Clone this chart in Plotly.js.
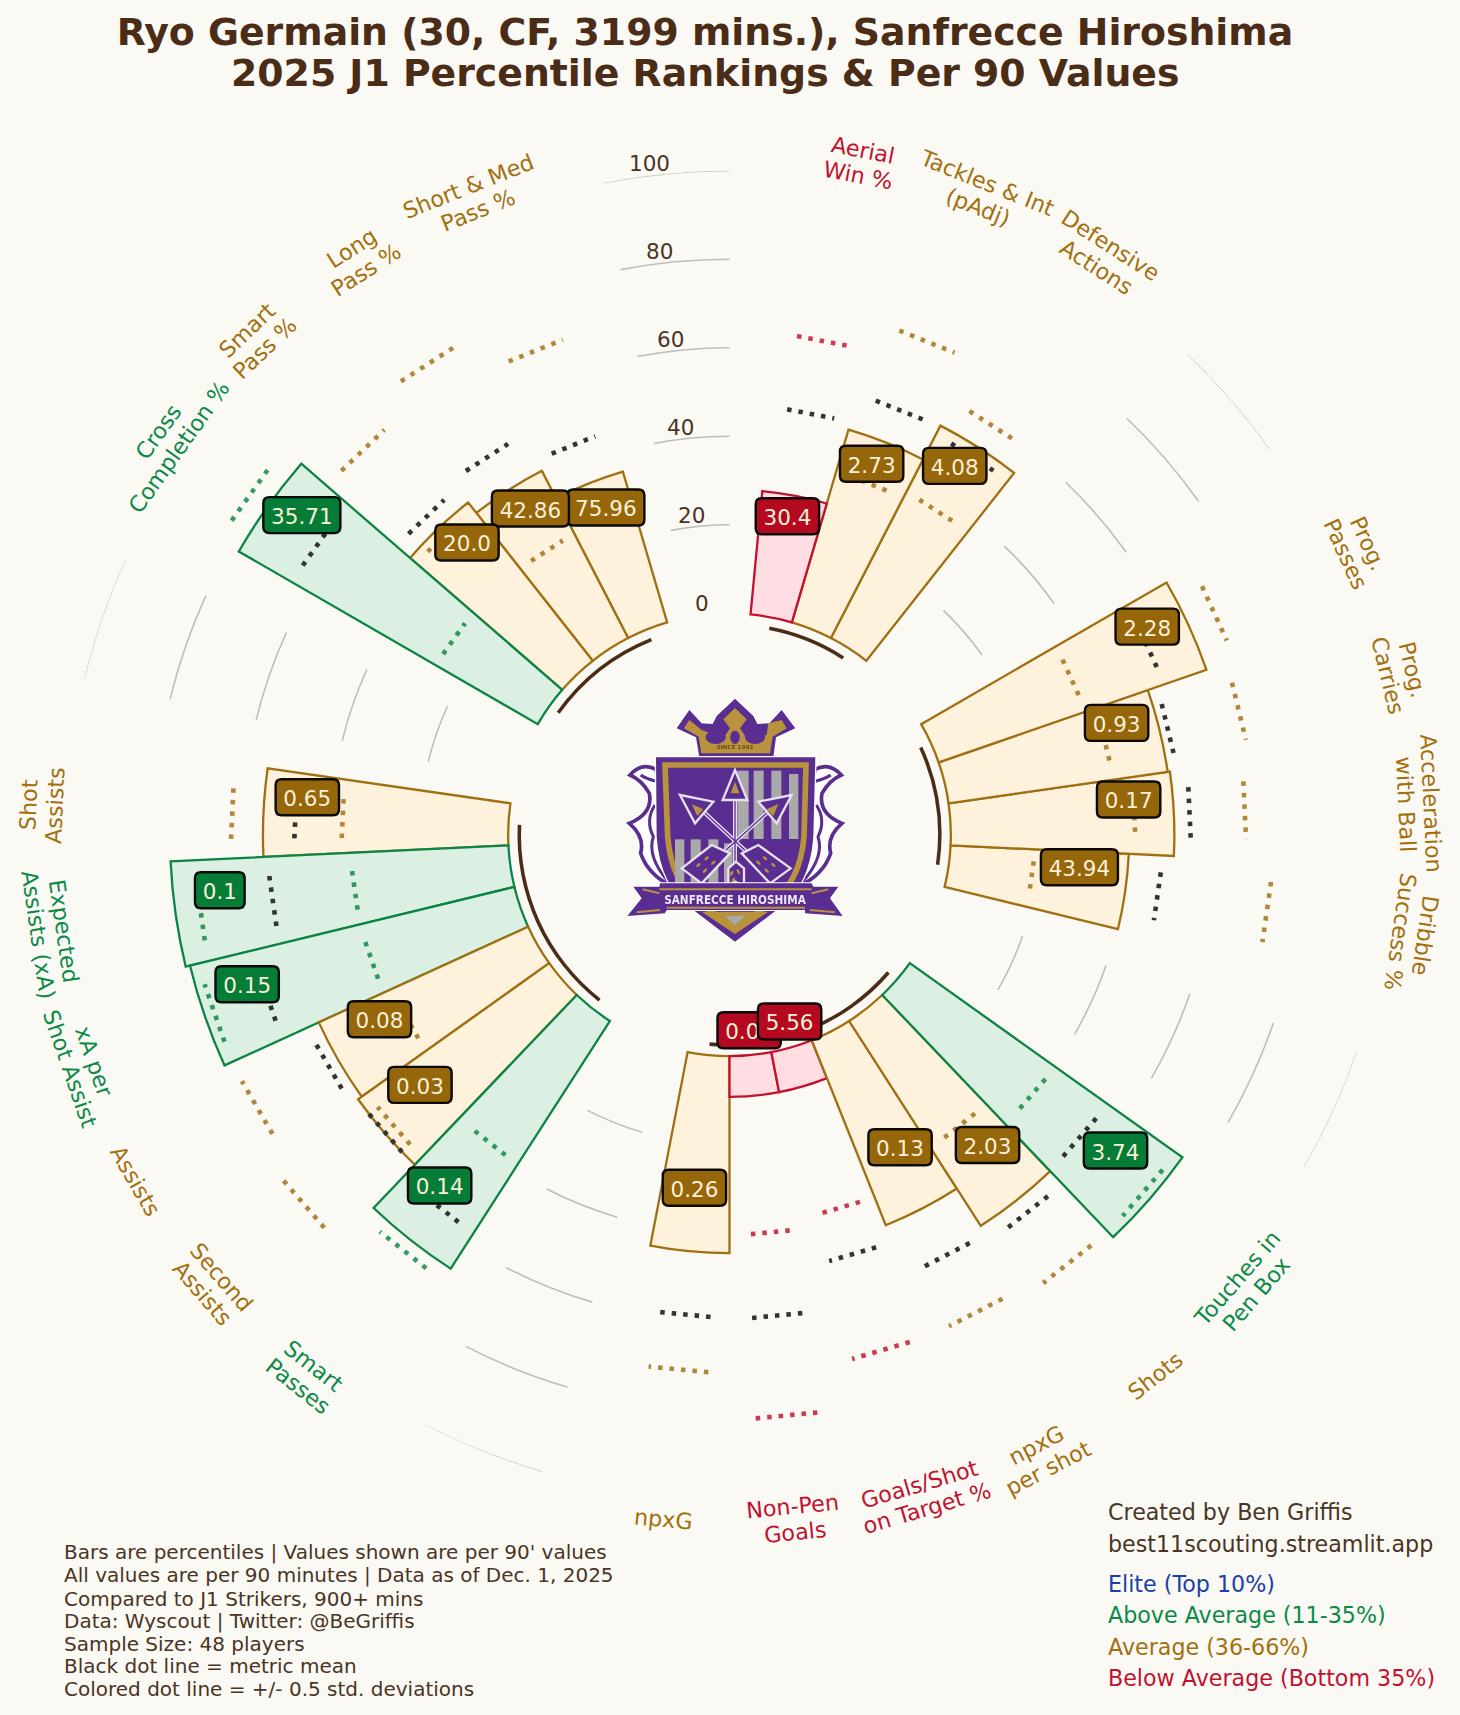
<!DOCTYPE html>
<html><head><meta charset="utf-8">
<script src="https://cdn.plot.ly/plotly-3.0.1.min.js"></script>
<style>html,body{margin:0;padding:0;background:#fbf9f4}</style></head>
<body><div id="chart" style="width:1460px;height:1715px"></div>
<script>
// ---------- chart data ----------
const metricNames = ['Aerial<br>Win %','Tackles & Int<br>(pAdj)','Defensive<br>Actions','Prog.<br>Passes','Prog.<br>Carries','Acceleration<br>with Ball','Dribble<br>Success %','Touches in<br>Pen Box','Shots','npxG<br>per shot','Goals/Shot<br>on Target %','Non-Pen<br>Goals','npxG','Smart<br>Passes','Second<br>Assists','Assists','xA per<br>Shot Assist','Expected<br>Assists (xA)','Shot<br>Assists','Cross<br>Completion %','Smart<br>Pass %','Long<br>Pass %','Short & Med<br>Pass %'];
const slots      = [1,2,3,6,7,8,9,12,13,14,15,16,17,20,21,22,23,24,25,28,29,30,31];
const percentiles= [28,45.4,54,64,50,50.5,40.3,75.6,55,45,9.2,9.2,44.5,66.5,53,52,75.4,76.4,55.4,78,45.5,42.5,35.5];
const perVals    = ['30.4','2.73','4.08','2.28','0.93','0.17','43.94','3.74','2.03','0.13','5.56','0.09','0.26','0.14','0.03','0.08','0.15','0.1','0.65','35.71','20.0','42.86','75.96'];
const tiers      = ['bad','avg','avg','avg','avg','avg','avg','good','avg','avg','bad','bad','avg','good','avg','avg','good','good','avg','good','avg','avg','avg'];
const meanPct    = [47,53.5,51.6,53.7,52,54.2,47.8,54.7,58.8,57,48.9,59.3,59,56.8,53,54.7,60.8,54.4,48.3,64,49.4,51.5,45];
const highPct    = [63.7,70.2,60,70.6,68.6,66.7,72.8,73.7,73.6,71.6,71.6,82,71.5,69.5,77.5,73.4,73.3,70.9,62.6,83,70.2,76.5,68];
const lowPct     = [23,35.5,37,35,37.5,41.7,19,40.2,33.9,31,38,40.4,31,38.3,50.5,34,35.8,35.7,37.6,26.5,43.5,26.4,28];
const gridValues = [20,40,60,80,100];
const tickValues = [0,20,40,60,80,100];
const gapSlots   = [4.5,10.5,18.5,26.5,32.5];
const groupFrom  = [1,6,12,20,28];
const groupTo    = [3,9,17,25,31];
const noteLines  = ["Bars are percentiles | Values shown are per 90' values","All values are per 90 minutes | Data as of Dec. 1, 2025","Compared to J1 Strikers, 900+ mins","Data: Wyscout | Twitter: @BeGriffis","Sample Size: 48 players","Black dot line = metric mean","Colored dot line = +/- 0.5 std. deviations"];
const legendLines= ['Elite (Top 10%)','Above Average (11-35%)','Average (36-66%)','Below Average (Bottom 35%)'];
// ---------- layout helpers ----------
const W=1460,H=1715,S=1460/1335,CX=729.5,CY=834.8,R=664,STEP=360/33;
const PAL={avg:{fill:'#fff2dc',line:'#a06f12',box:'#96660a',txt:'#a3700f'},good:{fill:'#dbf0e3',line:'#0b8444',box:'#057d36',txt:'#0b8a47'},bad:{fill:'#ffdde2',line:'#c0112d',box:'#b5091f',txt:'#c1122f'}};
const BROWN='#4a2c17',TEXT='#4a3424',BG='#fbf9f4',FF='"DejaVu Sans", sans-serif';
const px=x=>x/W, py=y=>1-y/H;
const polarXY=(deg,p)=>{const r=(p+50)/150*R,a=deg*Math.PI/180;return [CX+r*Math.sin(a),CY-r*Math.cos(a)];};
// label centres and category label placement, in reference-display pixels
const valueBoxAt=[[720,472],[797,424],[873,426],[1049,573],[1021,661],[1032,731],[987,793],[1020,1052],[903,1047],[823,1049],[722,934],[685,942],[635,1086],[402,1084],[384,992],[347,932],[226,900],[201,814],[281,729],[276,471],[427,496],[485,465],[554,464]];
const nameAt=[[787,149,10.9],[899,178,21.8],[1009,234,32.7],[1241,502,65.45],[1281,615,76.4],[1297,735,87.3],[1292,854,98.2],[1140,1176,-49.1],[1056,1258,-38.2],[953,1332,-27.3],[844,1368,-16.4],[726,1389,-5.45],[607,1389,5.45],[280,1258,38.2],[194,1175,49.1],[124,1080,60],[75,974,70.9],[47,853,81.8],[38,736,-87.3],[154,402,-54.5],[234,310,-43.6],[328,237,-32.7],[433,181,-21.8]];

const order=slots.map((_,i)=>i).reverse();
const traces=[];
// grid arcs in the gaps between metric groups
gridValues.forEach(g=>{traces.push({type:'barpolar',theta:gapSlots.map(s=>s*STEP),r:gapSlots.map(_=>g===100?0.22:0.36),base:gapSlots.map(_=>g-0.15),width:gapSlots.map(_=>STEP),marker:{color:g===100?'#cfcfcb':'#bdbdb9',line:{width:0}},hoverinfo:'skip',showlegend:false});});
// group brackets
traces.push({type:'barpolar',theta:groupFrom.map((f,i)=>(f+groupTo[i])/2*STEP),r:groupFrom.map(_=>0.8),base:groupFrom.map(_=>-2.9),width:groupFrom.map((f,i)=>(groupTo[i]-f)*STEP),marker:{color:BROWN,line:{width:0}},hoverinfo:'skip',showlegend:false});
// percentile bars, later slots underneath
traces.push({type:'barpolar',theta:order.map(i=>slots[i]*STEP),r:order.map(i=>percentiles[i]),base:order.map(_=>0),width:order.map(_=>STEP),marker:{color:order.map(i=>PAL[tiers[i]].fill),line:{color:order.map(i=>PAL[tiers[i]].line),width:2.3}},hoverinfo:'skip',showlegend:false});
// dotted reference lines
function dotTrace(color,opacity,pick,vals){const t=[],r=[];slots.forEach((s,i)=>{if(!pick(i))return;t.push(s*STEP-3.2,s*STEP+3.2,null);r.push(vals[i],vals[i],null);});
  return {type:'scatterpolar',mode:'lines',theta:t,r:r,line:{color:color,width:4.6,dash:'4.5px,7px'},opacity:opacity,hoverinfo:'skip',showlegend:false,connectgaps:false};}
traces.push(dotTrace('#333333',1,()=>true,meanPct));
['avg','good','bad'].forEach(k=>{traces.push(dotTrace(PAL[k].line,0.82,i=>tiers[i]===k,highPct));traces.push(dotTrace(PAL[k].line,0.82,i=>tiers[i]===k,lowPct));});

// annotations
const ann=[];
const add=(x,y,text,size,color,opt)=>ann.push(Object.assign({xref:'paper',yref:'paper',x:px(x),y:py(y),text:text,showarrow:false,xanchor:'center',yanchor:'middle',font:{family:FF,size:size,color:color}},opt||{}));
add(705,73,'<b>2025 J1 Percentile Rankings & Per 90 Values</b>',37.8,BROWN);
tickValues.forEach(t=>{const [x,y]=polarXY(-6.8,t+2.7);add(x,y,String(t),21.5,TEXT);});
const LINE=25.5;
metricNames.forEach((n,i)=>{const a=nameAt[i],parts=n.split('<br>'),rad=a[2]*Math.PI/180;
  parts.forEach((t,j)=>{const off=(j-(parts.length-1)/2)*LINE;add(a[0]*S-Math.sin(rad)*off,a[1]*S+Math.cos(rad)*off,t,22.3,PAL[tiers[i]].txt,{textangle:a[2]});});});
const noteY=[1552,1575.3,1598.7,1621,1644,1666,1689];
noteLines.forEach((t,i)=>add(62,noteY[i],t,20,TEXT,{xanchor:'left'}));
add(1106,1512,'Created by Ben Griffis',22.2,TEXT,{xanchor:'left'});
add(1106,1544,'best11scouting.streamlit.app',22.2,TEXT,{xanchor:'left'});
const legendY=[1583.5,1615,1647,1678],legendC=['#1a3fa8',PAL.good.txt,PAL.avg.txt,PAL.bad.txt];
legendLines.forEach((t,i)=>add(1106,legendY[i],t,22.2,legendC[i],{xanchor:'left'}));

// value boxes (rounded), drawn in reverse slot order so overlaps match
const shapes=order.map(i=>{const s=perVals[i];let tw=0;for(const c of s)tw+=c==='.'?0.318:0.636;const w=tw*21.5+15.5,h=36;const cx=valueBoxAt[i][0]*S,cy=valueBoxAt[i][1]*S;
  const x0=cx-w/2,x1=cx+w/2,y0=cy-h/2,y1=cy+h/2,r=6;
  const P=(x,y)=>px(x)+' '+py(y);
  const path='M '+P(x0+r,y0)+' L '+P(x1-r,y0)+' Q '+P(x1,y0)+' '+P(x1,y0+r)+' L '+P(x1,y1-r)+' Q '+P(x1,y1)+' '+P(x1-r,y1)+' L '+P(x0+r,y1)+' Q '+P(x0,y1)+' '+P(x0,y1-r)+' L '+P(x0,y0+r)+' Q '+P(x0,y0)+' '+P(x0+r,y0)+' Z';
  return {type:'path',xref:'paper',yref:'paper',path:path,fillcolor:PAL[tiers[i]].box,line:{color:'#0a0a0a',width:2.4},layer:'above',label:{text:s,font:{family:FF,size:21.5,color:'#fbf0d9'},textposition:'middle center'}};});

// club crest
const Pu='#5a2d91',G='#b8923c',WH='#e8e0f0';
const fleck=(x,y,a)=>`<ellipse cx="${x}" cy="${y}" rx="8" ry="4" transform="rotate(${a} ${x} ${y})" fill="${G}"/>`;
const crest=`<svg xmlns="http://www.w3.org/2000/svg" viewBox="0 0 810 810" width="810" height="810"><defs><filter id="b" x="-5%" y="-5%" width="110%" height="110%"><feGaussianBlur stdDeviation="2"/></filter></defs><g filter="url(#b)">
<path d="M298 232L288 172L230 145L268 90L305 130L338 132L350 108L405 56L460 108L472 132L508 130L545 90L586 145L528 172L520 232Z" fill="${Pu}" stroke="#fff" stroke-width="12" paint-order="stroke"/>
<path d="M405 84L440 118L420 145L440 175L500 165L505 130L545 120L560 145L518 170L510 220L304 220L296 170L252 145L268 120L305 150L370 175L390 145L370 118Z" fill="${G}"/>
<ellipse cx="347" cy="172" rx="30" ry="20" fill="${Pu}"/><ellipse cx="465" cy="172" rx="30" ry="20" fill="${Pu}"/><ellipse cx="405" cy="172" rx="14" ry="20" fill="${Pu}"/>
<text x="405" y="208" font-family="DejaVu Sans" font-size="17" font-weight="bold" text-anchor="middle" fill="#6b4a20">SINCE 1992</text>
<path d="M168 268Q125 245 90 285Q125 300 148 340Q160 400 88 430Q135 470 122 520Q145 585 215 618L240 560L175 300Z" fill="#fff" stroke="${Pu}" stroke-width="11"/>
<path d="M172 305Q135 295 122 285M165 375Q135 420 160 470Q140 530 205 605" fill="none" stroke="${Pu}" stroke-width="9"/>
<path d="M645 268Q688 245 724 285Q689 300 666 340Q654 400 726 430Q679 470 692 520Q669 585 598 618L575 560L640 300Z" fill="#fff" stroke="${Pu}" stroke-width="11"/>
<path d="M642 305Q679 295 692 285M649 375Q679 420 654 470Q674 530 608 605" fill="none" stroke="${Pu}" stroke-width="9"/>
<path d="M168 232L646 232L640 470Q630 620 530 690L405 785L280 690Q180 620 170 470Z" fill="${Pu}" stroke="#fff" stroke-width="8" paint-order="stroke"/>
<path d="M195 255L618 255L612 470Q600 610 510 670L405 748L300 670Q215 610 203 470Z" fill="none" stroke="${G}" stroke-width="17"/>
<g fill="#a9a9a9"><rect x="412" y="272" width="34" height="205"/><rect x="461" y="272" width="30" height="205"/><rect x="514" y="272" width="30" height="205"/><rect x="567" y="282" width="28" height="195"/><rect x="225" y="478" width="28" height="130"/><rect x="272" y="478" width="30" height="130"/><rect x="325" y="478" width="30" height="130"/><rect x="372" y="490" width="26" height="120"/></g>
<path d="M405 360L405 600M305 390L520 590M510 390L290 590" fill="none" stroke="${WH}" stroke-width="12"/><path d="M405 360L405 600M305 390L520 590M510 390L290 590" fill="none" stroke="${Pu}" stroke-width="4"/>
<g stroke="${WH}" stroke-width="7" fill="${Pu}"><path d="M405 270L442 360L368 360Z"/><path d="M240 345L340 365L285 430Z"/><path d="M575 345L475 365L530 430Z"/><path d="M385 565L385 618L405 605L432 618L432 565L408 545Z"/><path d="M245 565L335 495L390 520L305 610Z"/><path d="M572 565L475 495L425 520L510 610Z"/></g>
<g fill="${G}"><path d="M405 305L418 340L392 340Z"/><path d="M275 372L310 388L292 408Z"/><path d="M535 372L500 388L520 408Z"/></g>
${fleck(395,580,-60)}${fleck(415,575,60)}${fleck(400,600,-60)}${fleck(295,555,-40)}${fleck(320,535,-40)}${fleck(340,548,-40)}${fleck(315,572,-40)}${fleck(520,555,40)}${fleck(495,535,40)}${fleck(475,548,40)}${fleck(500,572,40)}
<path d="M100 620L178 620L180 610L635 610L640 620L715 620L690 655L728 708L615 700L615 690L200 690L195 700L82 708L125 655Z" fill="${Pu}" stroke="#fff" stroke-width="6" paint-order="stroke"/>
<path d="M178 628L635 628M200 683L615 683M110 697L180 690M630 690L705 697M128 628L178 640M685 628L635 640" stroke="${G}" stroke-width="6" fill="none"/>
<path d="M305 695L505 695L405 762Z" fill="${G}"/><path d="M375 708L435 708L405 735Z" fill="#a9a9a9"/>
<text x="405" y="672" font-family="DejaVu Sans" font-size="37" font-weight="bold" text-anchor="middle" fill="#efe8f4" textLength="425" lengthAdjust="spacingAndGlyphs">SANFRECCE  HIROSHIMA</text>
</g></svg>`;
const images=[{source:'data:image/svg+xml;charset=utf-8,'+encodeURIComponent(crest),xref:'paper',yref:'paper',x:px(600),y:py(680),sizex:270/W,sizey:270/H,xanchor:'left',yanchor:'top',sizing:'stretch',layer:'above'}];

const layout={width:W,height:H,autosize:false,margin:{l:0,r:0,t:0,b:0},paper_bgcolor:BG,plot_bgcolor:BG,showlegend:false,
 title:{text:'<b>Ryo Germain (30, CF, 3199 mins.), Sanfrecce Hiroshima</b>',x:px(705),xanchor:'center',y:py(32),yanchor:'middle',font:{family:FF,size:37.8,color:BROWN}},
 polar:{domain:{x:[px(CX-R),px(CX+R)],y:[py(CY+R),py(CY-R)]},bgcolor:'rgba(0,0,0,0)',barmode:'overlay',
  radialaxis:{range:[-50,100],visible:false,showgrid:false},angularaxis:{rotation:90,direction:'clockwise',visible:false,showgrid:false,thetaunit:'degrees'}},
 annotations:ann,shapes:shapes,images:images};
Plotly.newPlot('chart',traces,layout,{displayModeBar:false,staticPlot:true});
</script></body></html>
